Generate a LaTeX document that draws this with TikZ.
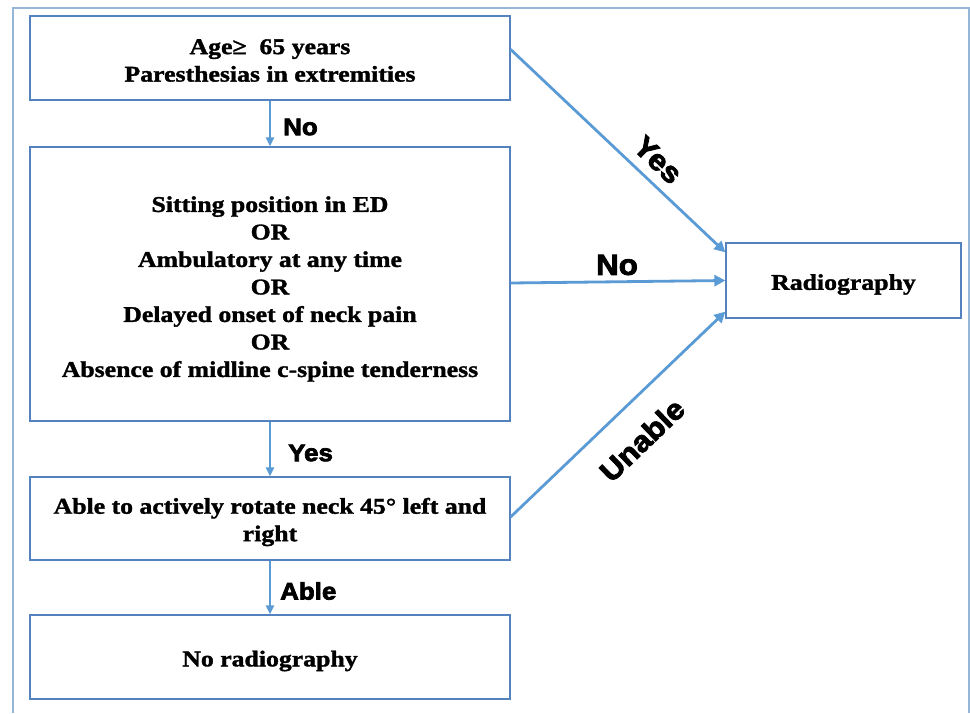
\documentclass[tikz,border=0pt]{standalone}
\usepackage{fontspec}
\setmainfont{Liberation Serif}
\newfontfamily\boxfont[FakeStretch=1.145,BoldFeatures={FakeBold=1.5}]{Liberation Serif}
\newfontfamily\lblfont[UprightFont={* Bold},FakeStretch=1.08,FakeBold=3]{Liberation Sans}
\usetikzlibrary{arrows.meta,calc}
\definecolor{arrowblue}{RGB}{91,155,213}
\definecolor{boxblue}{RGB}{84,130,190}
\definecolor{framebl}{RGB}{150,182,215}
\begin{document}
\begin{tikzpicture}[x=1pt,y=-1pt,
 box/.style={draw=boxblue, line width=1.2pt, minimum width=480pt, inner sep=0pt},
 boxtext/.style={align=center, font=\boxfont\bfseries\fontsize{22.5}{27.5}\selectfont, inner sep=0pt},
 conn/.style={draw=arrowblue, line width=2.8pt, -{Triangle[length=11pt,width=11pt]}},
 vconn/.style={draw=arrowblue, line width=2pt, -{Triangle[length=9pt,width=8pt]}},
 vlbl/.style={font=\lblfont\fontsize{24}{24}\selectfont, text=black, inner sep=0pt},
 dlbl/.style={font=\lblfont\fontsize{29}{29}\selectfont, text=black, inner sep=0pt}]
\useasboundingbox (0,0) rectangle (970,713);
\fill[white] (0,0) rectangle (970,713);
\draw[framebl, line width=1.2pt] (13,713) -- (13,8) -- (969,8) -- (969,713);

\node[box, minimum height=84pt] (b1) at (270,58) {};
\node[box, minimum height=274pt] (b2) at (270,284) {};
\node[box, minimum height=83pt] (b3) at (270,518.5) {};
\node[box, minimum height=84pt] (b4) at (270,657) {};
\node[box, minimum width=235pt, minimum height=75pt] (rad) at (843.5,280.5) {};

\node[boxtext] (t1) at ($(b1)+(0,2.5)$) {Age≥\ \ 65 years\\Paresthesias in extremities};
\node[boxtext] (t2) at ($(b2)+(0,5)$) {Sitting position in ED\\OR\\Ambulatory at any time\\OR\\Delayed onset of neck pain\\OR\\Absence of midline c-spine tenderness};
\node[boxtext] (t3) at ($(b3)+(0,3.5)$) {Able to actively rotate neck 45° left and\\right};
\node[boxtext] (t4) at ($(b4)+(0,4)$) {No radiography};
\node[boxtext] (t5) at ($(rad)+(0,4)$) {Radiography};

\draw[vconn] (b1.south) -- (b2.north);
\draw[vconn] (b2.south) -- (b3.north);
\draw[vconn] (b3.south) -- (b4.north);
\draw[conn] ($(b1.north east)+(0,34)$) -- ($(rad.north west)+(0,10)$);
\draw[conn] ($(b2.east)+(0,-1)$) -- (rad.west);
\draw[conn] ($(b3.east)+(0,-1.5)$) -- ($(rad.south west)+(0,-7)$);

\node[vlbl, anchor=west] (l1) at (283,127) {No};
\node[vlbl, anchor=west] (l2) at (288,453) {Yes};
\node[vlbl, anchor=west] (l3) at (280,591) {Able};
\node[dlbl, rotate=-43.4] (l4) at (658,160) {Yes};
\node[dlbl] (l5) at (617,265) {No};
\node[dlbl, rotate=43.8] (l6) at (642,440) {Unable};
\end{tikzpicture}
\end{document}
